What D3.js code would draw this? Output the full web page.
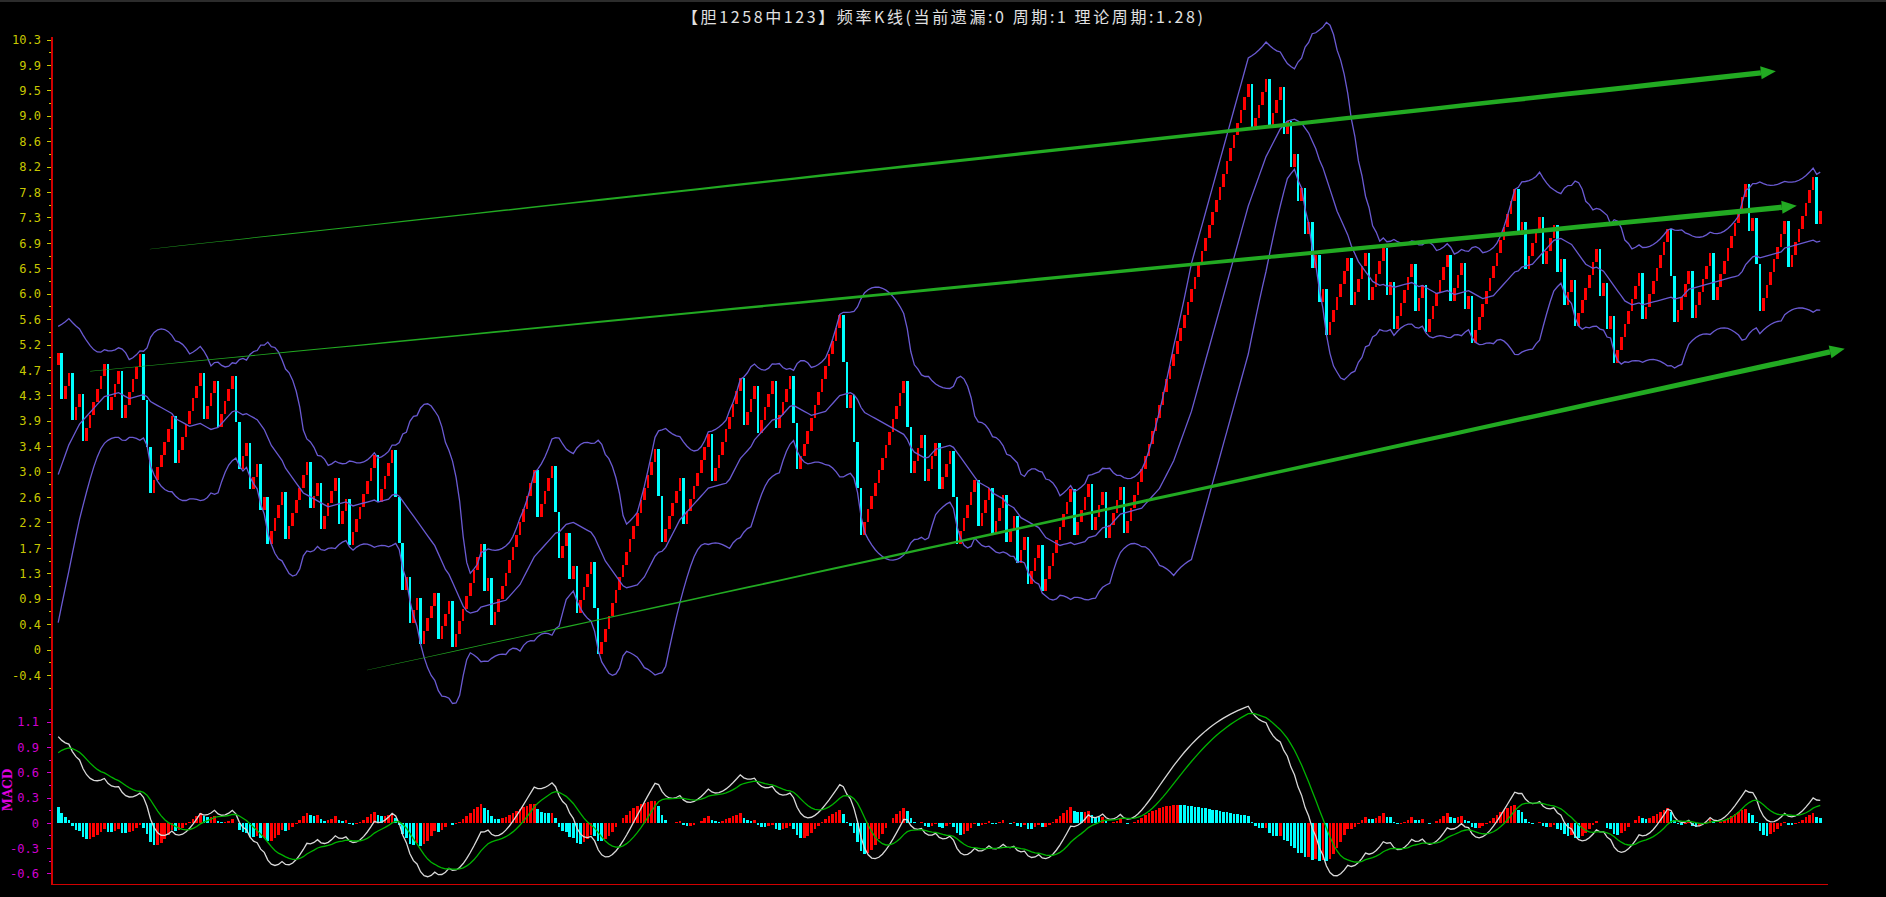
<!DOCTYPE html>
<html><head><meta charset="utf-8">
<script src="https://cdn.jsdelivr.net/npm/d3@7"></script>
<style>html,body{margin:0;padding:0;background:#000;overflow:hidden}svg{display:block}</style>
</head><body>
<svg id="c" width="1886" height="897"></svg>
<script>
// ---------------- DATA ----------------
const chartTitle = "【胆1258中123】频率K线(当前遗漏:0 周期:1 理论周期:1.28)";
const pHit = 0.7835;           // hit probability (theoretical period 1.28)
const startOpen = 4.80;        // value just before the first visible bar
const preHits = "11111111111111111111"; // bars before the visible window (indicator warm-up)
// 1 = hit (red bar, one step up), 0 = miss (cyan bar, drop); read bar by bar
const hits000 = "10110110111111011101111100011111101111111";                 // bars 0-40
const hits041 = "0111011110011011010111101111110110111101101111111011110001011011110111011111111010111111111"; // 41-131
const hits132 = "111011110" + "011010111100" + "1111111111111111" +
                "001111101111111011111111" + "0111011110111100" + "111111111111" +
                "001000" + "111111111111" + "00111011101110011" +
                "1110111011101101101110" + "1111111101111";                  // 132-290
const hits291 = "0111011110" + "11111111111111111111111111111111111" + "01111011101"; // 291-346
const hits347 = "01010101010" + "111111" + "0" + "1111" + "0" + "1111" + "010" + "11111" +
                "0110" + "111111" + "0111010" + "111111111111" +
                "01011110111010110" + "11111101010" +
                "1111111011111110011110" + "111110111111111010011111110111111101"; // 347-496

const yTickLabels = ["-0.4","0","0.4","0.9","1.3","1.7","2.2","2.6","3.0","3.4","3.9","4.3","4.7","5.2","5.6","6.0","6.5","6.9","7.3","7.8","8.2","8.6","9.0","9.5","9.9","10.3"];
const macdTickLabels = ["-0.6","-0.3","0","0.3","0.6","0.9","1.1"];
const trendArrows = [
  {from:[25.8,6.76], to:[483.5,9.76]},
  {from:[9,4.70],    to:[489.4,7.49]},
  {from:[86.9,-0.34], to:[502.9,5.08]}
];

// ---------------- BUILD SERIES ----------------
const hStep = 1 - pHit, mStep = pHit;
const vis = (hits000 + hits041 + hits132 + hits291 + hits347).split("").map(Number);
const pre = preHits.split("").map(Number);
const all = pre.concat(vis);
const P = pre.length, N = vis.length;
let cur = startOpen - pre.reduce((a,s)=>a+(s?hStep:-mStep),0);
const opens = [], closes = [];
all.forEach(s => { opens.push(cur); cur += s ? hStep : -mStep; closes.push(cur); });

// Bollinger (20, 2)
const boll = [];
for (let j=0;j<all.length;j++){
  const w = closes.slice(Math.max(0,j-19), j+1);
  const m = d3.mean(w), sd = Math.sqrt(d3.mean(w, d => (d-m)*(d-m)));
  boll.push({mid:m, up:m+2*sd, lo:m-2*sd});
}
// MACD (12,26,9)
function ema(arr, n){ const a = 2/(n+1); const out=[]; arr.forEach((v,i)=> out.push(i===0 ? v : a*v + (1-a)*out[i-1])); return out; }
const e12 = ema(closes,12), e26 = ema(closes,26);
const dif = e12.map((v,i)=> v - e26[i]);
const dea = ema(dif, 9);
const hist = dif.map((v,i)=> v - dea[i]);

// ---------------- SCALES ----------------
const yStep = 10.286/24;
const x = d3.scaleLinear().domain([0, N-1]).range([58.2, 58.2 + 3.5525*(N-1)]);
const y = d3.scaleLinear().domain([0, 24*yStep]).range([650, 40]);
const mStepV = 0.285;
const ym = d3.scaleLinear().domain([0, 4*mStepV]).range([823.3, 823.3 - 4*25.3]);

const svg = d3.select("#c");
svg.append("rect").attr("width",1886).attr("height",897).attr("fill","#000");
svg.append("rect").attr("width",1886).attr("height",2).attr("fill","#2c2c2c");

svg.append("text").attr("x",682).attr("y",23)
  .attr("textLength",521).attr("lengthAdjust","spacing")
  .attr("fill","#e0e0e0").style("font","16px 'Noto Sans CJK SC'").text(chartTitle);

// ---------------- AXES ----------------
const axisX = 52;
const gAx = svg.append("g");
yTickLabels.forEach((t,k)=>{
  const yy = y((k-1)*yStep);
  gAx.append("line").attr("x1",axisX-5).attr("x2",axisX).attr("y1",yy).attr("y2",yy).attr("stroke","#c8c800").attr("shape-rendering","crispEdges");
  gAx.append("text").attr("x",41).attr("y",yy).attr("dy","0.35em").attr("text-anchor","end")
    .attr("fill","#c8c800").style("font","12px 'DejaVu Sans Mono'").text(t);
});
for (let k=-1.5;k<=23.6;k+=1){
  const yy = y(k*yStep);
  gAx.append("line").attr("x1",axisX-3).attr("x2",axisX).attr("y1",yy).attr("y2",yy).attr("stroke","#c8c800").attr("shape-rendering","crispEdges");
}
macdTickLabels.forEach((t,k)=>{
  const yy = ym((k-2)*mStepV);
  gAx.append("line").attr("x1",axisX-5).attr("x2",axisX).attr("y1",yy).attr("y2",yy).attr("stroke","#d000d0").attr("shape-rendering","crispEdges");
  gAx.append("text").attr("x",39).attr("y",yy).attr("dy","0.35em").attr("text-anchor","end")
    .attr("fill","#d000d0").style("font","12px 'DejaVu Sans Mono'").text(t);
});
for (let k=-1.5;k<=4.6;k+=1){
  const yy = ym(k*mStepV);
  gAx.append("line").attr("x1",axisX-3).attr("x2",axisX).attr("y1",yy).attr("y2",yy).attr("stroke","#d000d0").attr("shape-rendering","crispEdges");
}
svg.append("text").attr("transform","translate(12,790) rotate(-90)").attr("text-anchor","middle")
  .attr("fill","#e000e0").style("font","bold 12px 'DejaVu Serif'").text("MACD");
svg.append("line").attr("x1",axisX).attr("x2",axisX).attr("y1",37).attr("y2",885).attr("stroke","#d00000").attr("stroke-width",1.5).attr("shape-rendering","crispEdges");
svg.append("line").attr("x1",axisX).attr("x2",1828).attr("y1",884.5).attr("y2",884.5).attr("stroke","#d00000").attr("stroke-width",1.5).attr("shape-rendering","crispEdges");

// ---------------- K BARS ----------------
const idx = d3.range(N);
const bw = 2.6;
svg.append("g").selectAll("rect").data(idx).join("rect")
  .attr("x", i => x(i) - bw/2).attr("width", bw)
  .attr("y", i => y(Math.max(opens[P+i], closes[P+i])))
  .attr("height", i => Math.abs(y(opens[P+i]) - y(closes[P+i])))
  .attr("fill", i => vis[i] ? "#ff0000" : "#00ffff")
  .attr("shape-rendering","crispEdges");

// Bollinger lines
const bandCol = "#6a5ad2";
["up","mid","lo"].forEach(key=>{
  svg.append("path").datum(idx).attr("fill","none").attr("stroke",bandCol).attr("stroke-width",1.3)
    .attr("d", d3.line().x(i=>x(i)).y(i=>y(boll[P+i][key])));
});

// ---------------- MACD ----------------
svg.append("g").selectAll("rect").data(idx).join("rect")
  .attr("x", i => x(i) - bw/2).attr("width", bw)
  .attr("y", i => Math.min(ym(0), ym(hist[P+i])))
  .attr("height", i => Math.abs(ym(0) - ym(hist[P+i])))
  .attr("fill", i => hist[P+i] >= hist[P+i-1] ? "#ff0000" : "#00ffff")
  .attr("shape-rendering","crispEdges");
svg.append("path").datum(idx).attr("fill","none").attr("stroke","#d8d8d8").attr("stroke-width",1.3)
  .attr("d", d3.line().x(i=>x(i)).y(i=>ym(dif[P+i])));
svg.append("path").datum(idx).attr("fill","none").attr("stroke","#00b400").attr("stroke-width",1.3)
  .attr("d", d3.line().x(i=>x(i)).y(i=>ym(dea[P+i])));

// ---------------- TREND ARROWS ----------------
const gA = svg.append("g");
trendArrows.forEach(a=>{
  const x0 = x(a.from[0]), y0 = y(a.from[1]), x1 = x(a.to[0]), y1 = y(a.to[1]);
  const L = Math.hypot(x1-x0, y1-y0), ux = (x1-x0)/L, uy = (y1-y0)/L, nx = -uy, ny = ux;
  const head = 15, hw = 6.5, shaftL = L - head;
  const left = [], right = [];
  for (let t=0;t<=1.0001;t+=0.02){
    const w = 0.4 + 5.0*t;
    const cx = x0 + ux*shaftL*t, cy = y0 + uy*shaftL*t;
    left.push([cx + nx*w/2, cy + ny*w/2]); right.push([cx - nx*w/2, cy - ny*w/2]);
  }
  gA.append("path").attr("d", "M" + left.concat(right.reverse()).map(p=>p.join(",")).join("L") + "Z").attr("fill","#22aa22");
  const bx = x0 + ux*shaftL, by = y0 + uy*shaftL;
  gA.append("path").attr("d", `M${x1},${y1}L${bx+nx*hw},${by+ny*hw}L${bx-nx*hw},${by-ny*hw}Z`).attr("fill","#22aa22");
});
</script>
</body></html>
